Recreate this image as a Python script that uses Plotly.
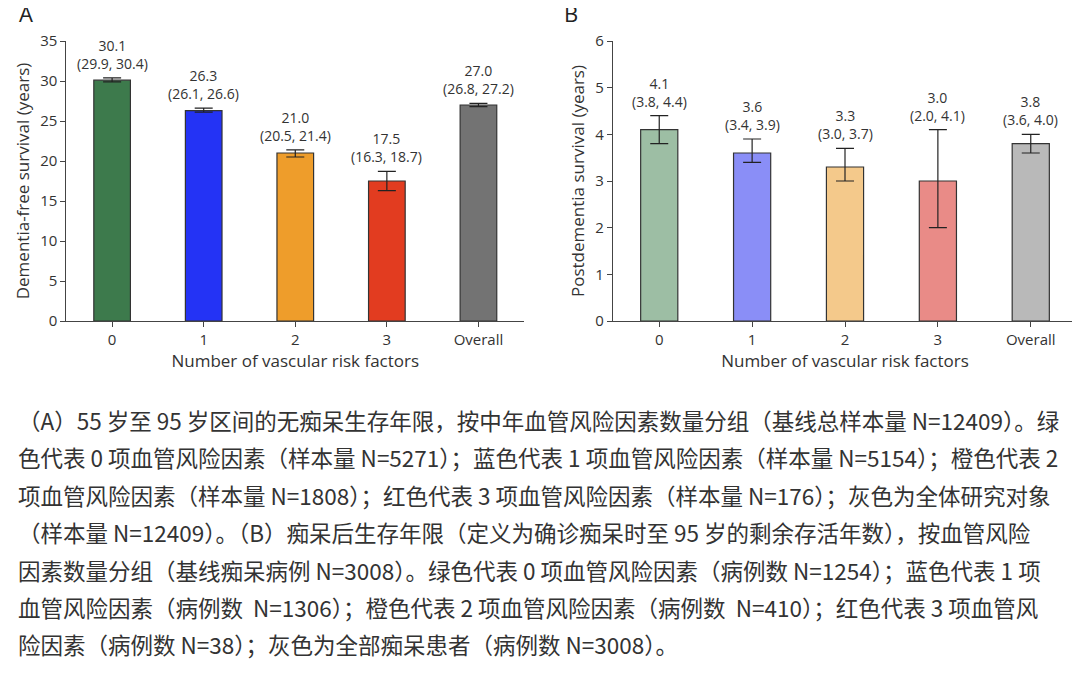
import plotly.graph_objects as go
from plotly.subplots import make_subplots

cats = ["0", "1", "2", "3", "Overall"]

a_vals = [30.1, 26.3, 21.0, 17.5, 27.0]
a_lo = [29.9, 26.1, 20.5, 16.3, 26.8]
a_hi = [30.4, 26.6, 21.4, 18.7, 27.2]
a_colors = ["#3d7a4c", "#2433f5", "#ee9d2b", "#e23c20", "#737373"]

b_vals = [4.1, 3.6, 3.3, 3.0, 3.8]
b_lo = [3.8, 3.4, 3.0, 2.0, 3.6]
b_hi = [4.4, 3.9, 3.7, 4.1, 4.0]
b_colors = ["#9dbea4", "#8a8ef7", "#f4c98b", "#e98b87", "#b9b9b9"]

caption = [
    "（A）55 岁至 95 岁区间的无痴呆生存年限，按中年血管风险因素数量分组（基线总样本量 N=12409）。绿",
    "色代表 0 项血管风险因素（样本量 N=5271）；蓝色代表 1 项血管风险因素（样本量 N=5154）；橙色代表 2",
    "项血管风险因素（样本量 N=1808）；红色代表 3 项血管风险因素（样本量 N=176）；灰色为全体研究对象",
    "（样本量 N=12409）。（B）痴呆后生存年限（定义为确诊痴呆时至 95 岁的剩余存活年数），按血管风险",
    "因素数量分组（基线痴呆病例 N=3008）。绿色代表 0 项血管风险因素（病例数 N=1254）；蓝色代表 1 项",
    "血管风险因素（病例数  N=1306）；橙色代表 2 项血管风险因素（病例数  N=410）；红色代表 3 项血管风",
    "险因素（病例数 N=38）；灰色为全部痴呆患者（病例数 N=3008）。",
]

fig = make_subplots(rows=1, cols=2, horizontal_spacing=0.09)


def add_panel(vals, lo, hi, colors, col):
    suffix = "" if col == 1 else str(col)
    fig.add_trace(go.Bar(
        x=cats, y=vals, marker=dict(color=colors, line=dict(color="#333", width=1.2)),
        width=0.4,
        error_y=dict(type="data", symmetric=False,
                     array=[h - v for h, v in zip(hi, vals)],
                     arrayminus=[v - l for v, l in zip(vals, lo)],
                     color="#222", thickness=1.2, width=9),
        showlegend=False), row=1, col=col)
    for c, h, v, l in zip(cats, hi, vals, lo):
        fig.add_annotation(x=c, y=h, xref="x" + suffix, yref="y" + suffix,
                           text="{:.1f}<br>({:.1f}, {:.1f})".format(v, l, h),
                           showarrow=False, yanchor="bottom", yshift=3,
                           font=dict(size=14, color="#333"))


add_panel(a_vals, a_lo, a_hi, a_colors, 1)
add_panel(b_vals, b_lo, b_hi, b_colors, 2)

axis_style = dict(showline=True, linecolor="#444", linewidth=1, ticks="outside",
                  tickcolor="#444", showgrid=False, zeroline=False,
                  tickfont=dict(size=15, color="#333"))
fig.update_xaxes(**axis_style, title=dict(text="Number of vascular risk factors",
                 font=dict(size=17, color="#333"), standoff=2))
fig.update_yaxes(**axis_style)
fig.update_yaxes(range=[0, 35], dtick=5, title=dict(text="Dementia-free survival (years)",
                 font=dict(size=17, color="#333"), standoff=6), row=1, col=1)
fig.update_yaxes(range=[0, 6], dtick=1, title=dict(text="Postdementia survival (years)",
                 font=dict(size=17, color="#333"), standoff=6), row=1, col=2)
fig.update_xaxes(domain=[0.054, 0.478], row=1, col=1)
fig.update_xaxes(domain=[0.56, 0.99], row=1, col=2)

fig.add_annotation(x=0.008, y=1.04, xref="paper", yref="paper", text="A", showarrow=False,
                   xanchor="left", yanchor="bottom", font=dict(size=22, color="#222"))
fig.add_annotation(x=0.513, y=1.04, xref="paper", yref="paper", text="B", showarrow=False,
                   xanchor="left", yanchor="bottom", font=dict(size=22, color="#222"))

top, bottom = 33, 313
fig.update_layout(
    width=1080, height=682, plot_bgcolor="white", paper_bgcolor="white",
    margin=dict(l=0, r=0, t=top, b=682 - bottom),
    font=dict(family="Open Sans, Noto Sans", color="#333"),
)

# caption lines placed in paper coords relative to the plot area
for i, line in enumerate(caption):
    ypix = 412 + i * 37.4
    fig.add_annotation(x=8 / 1080, y=(bottom - ypix) / (bottom - top), xref="paper", yref="paper",
                       text=line, showarrow=False, xanchor="left", yanchor="middle",
                       font=dict(size=22.5, color="#333", family="Noto Sans CJK SC"))

fig.write_html("out.html")
